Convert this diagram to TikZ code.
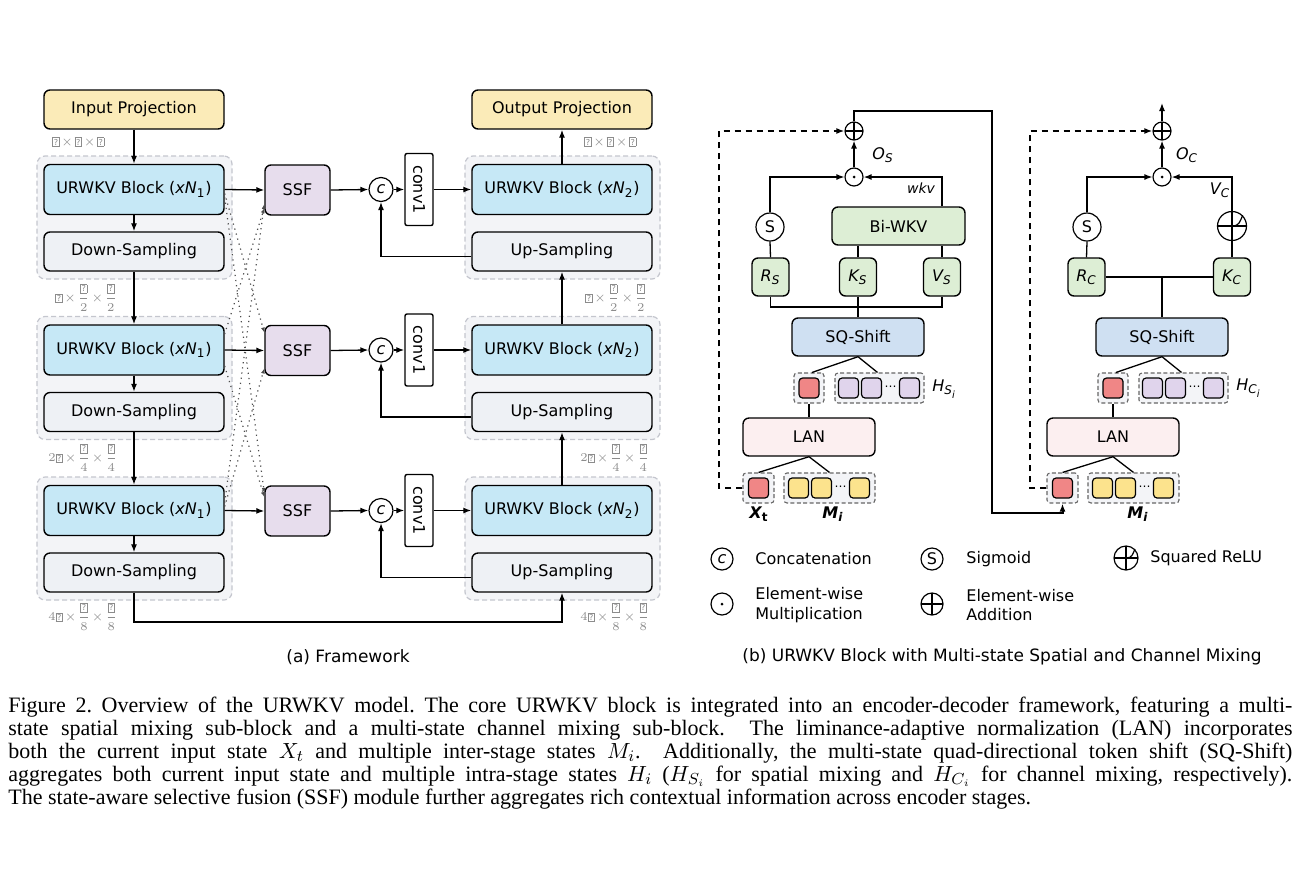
\documentclass[tikz,border=0pt]{standalone}
\usepackage{fontspec}
\usepackage{amsmath}
\setmainfont{Liberation Serif}
\newfontfamily\diagfont{DejaVu Sans}
\usetikzlibrary{arrows.meta,calc}

\definecolor{projfill}{HTML}{FBEBB8}
\definecolor{blockfill}{HTML}{C6E8F6}
\definecolor{sampfill}{HTML}{EEF1F5}
\definecolor{ssffill}{HTML}{E7DDED}
\definecolor{stagefill}{HTML}{F3F4F7}
\definecolor{stageline}{HTML}{C4C6CE}
\definecolor{wkvfill}{HTML}{DDEED5}
\definecolor{shiftfill}{HTML}{CFE0F2}
\definecolor{lanfill}{HTML}{FCEFF0}
\definecolor{tokred}{HTML}{F08686}
\definecolor{tokpurple}{HTML}{E0D4EC}
\definecolor{tokyellow}{HTML}{FCE38D}
\definecolor{dimtext}{HTML}{8C8C8C}

% missing-glyph placeholder used in the size annotations
\newcommand{\qbox}{{\setlength{\fboxsep}{0.4pt}\setlength{\fboxrule}{0.35pt}\fbox{\diagfont\fontsize{4.1}{4.1}\selectfont ?}}}
\newcommand{\szfull}{$\qbox\mskip-2mu\times\mskip-2mu\qbox\mskip-2mu\times\mskip-2mu\qbox$}
\newcommand{\szhalf}{$\qbox\mskip-2mu\times\mskip-2mu\dfrac{\qbox}{2}\mskip-2mu\times\mskip-2mu\dfrac{\qbox}{2}$}
\newcommand{\szquarter}{$2\qbox\mskip-2mu\times\mskip-2mu\dfrac{\qbox}{4}\mskip-2mu\times\mskip-2mu\dfrac{\qbox}{4}$}
\newcommand{\szeighth}{$4\qbox\mskip-2mu\times\mskip-2mu\dfrac{\qbox}{8}\mskip-2mu\times\mskip-2mu\dfrac{\qbox}{8}$}
\newcommand{\tokdots}{{\fontsize{6}{6}\selectfont ⋯}}

\begin{document}
\begin{tikzpicture}[x=0.5pt,y=-0.5pt,
  font=\diagfont\fontsize{8}{9.6}\selectfont,
  box/.style={draw, line width=0.7pt, rounded corners=3pt, inner sep=0pt, align=center},
  stage/.style={draw=stageline, dash pattern=on 2.5pt off 1.5pt, fill=stagefill, rounded corners=4pt, line width=0.6pt, inner sep=0pt},
  tokgrp/.style={draw=black!60, dash pattern=on 2pt off 1.2pt, fill=stagefill, rounded corners=1.5pt, line width=0.55pt, inner sep=0pt, minimum height=15pt},
  tok/.style={draw, line width=0.6pt, rounded corners=1.8pt, minimum size=10pt, inner sep=0pt},
  op/.style={draw, circle, line width=0.6pt, inner sep=0pt},
  addop/.style={op, path picture={\draw[line width=0.6pt] (path picture bounding box.north)--(path picture bounding box.south) (path picture bounding box.west)--(path picture bounding box.east);}},
  mulop/.style={op, path picture={\fill (path picture bounding box.center) circle (0.75pt);}},
  arr/.style={line width=0.65pt, -{Latex[length=4pt,width=3pt]}},
  link/.style={line width=0.65pt},
  crossln/.style={dotted, line width=0.6pt, draw=black!70, -{Latex[length=2.5pt,width=2pt]}},
  skip/.style={line width=0.8pt, dash pattern=on 3pt off 2.5pt, -{Latex[length=4pt,width=3pt]}},
  dimlbl/.style={text=dimtext, font=\diagfont\fontsize{5.8}{7}\selectfont, inner sep=0pt, anchor=west},
  lbl/.style={inner sep=0pt},
]
\useasboundingbox (0,0) rectangle (1300,879);

% ================= (a) Framework =================
\node[box, fill=projfill, minimum width=90pt, minimum height=19.5pt] (inproj) at (134,109.5) {Input Projection};
\node[box, fill=projfill, minimum width=90pt, minimum height=19.5pt] (outproj) at (562,109.5) {Output Projection};

% stage backgrounds
\foreach \i/\dy in {1/0,2/160.5,3/321}{
  \node[stage, minimum width=97.5pt, minimum height=61.5pt] (es\i) at (134.5,{217.5+\dy}) {};
  \node[stage, minimum width=97.5pt, minimum height=61.5pt] (ds\i) at (562.5,{217.5+\dy}) {};
}

% stage contents
\foreach \i/\dy in {1/0,2/160.5,3/321}{
  \node[box, fill=blockfill, minimum width=90pt, minimum height=25pt] (eu\i) at (134,{189.5+\dy}) {URWKV Block ({\itshape xN}\textsubscript{1})};
  \node[box, fill=sampfill, minimum width=90pt, minimum height=19.5pt] (ed\i) at (134,{251.5+\dy}) {Down-Sampling};
  \node[box, fill=blockfill, minimum width=90pt, minimum height=25pt] (du\i) at (562,{189.5+\dy}) {URWKV Block ({\itshape xN}\textsubscript{2})};
  \node[box, fill=sampfill, minimum width=90pt, minimum height=19.5pt] (dup\i) at (562,{251.5+\dy}) {Up-Sampling};
  \node[box, fill=ssffill, minimum width=32.5pt, minimum height=25pt] (ssf\i) at (297.5,{190+\dy}) {SSF};
  \node[op, minimum size=12pt] (cat\i) at (381,{189.5+\dy}) {\itshape c};
  \node[draw, line width=0.7pt, rounded corners=1pt, fill=white, rotate=-90, minimum width=36pt, minimum height=14pt, inner sep=0pt] (cv\i) at (419,{189.5+\dy}) {conv1};
  \draw[arr] (eu\i.south) -- (ed\i.north);
  \draw[arr] (eu\i.east) -- (ssf\i.west);
  \draw[arr] (ssf\i.east) -- (cat\i.west);
  \draw[arr] (cat\i) -- (cv\i);
  \draw[arr] (cv\i) -- (du\i.west);
  \draw[arr] ([yshift=-2.5pt]dup\i.west) -| (cat\i.south);
}

% main vertical flow
\draw[arr] (inproj.south) -- (eu1.north);
\draw[arr] (ed1.south) -- (eu2.north);
\draw[arr] (ed2.south) -- (eu3.north);
\draw[arr] (du1.north) -- (outproj.south);
\draw[arr] (du2.north) -- (dup1.south);
\draw[arr] (du3.north) -- (dup2.south);
\coordinate (bottomturn) at (134,622);
\draw[arr] (ed3.south) -- (bottomturn) -| (dup3.south);

% cross-stage links into the SSF modules
\draw[crossln] ([yshift=-2pt]eu1.east) -- ([yshift=9pt]ssf2.west);
\draw[crossln] ([yshift=-4pt]eu1.east) -- ([yshift=9pt]ssf3.west);
\draw[crossln] ([yshift=8pt]eu2.east) -- ([yshift=-9pt]ssf1.west);
\draw[crossln] ([yshift=-8pt]eu2.east) -- ([yshift=7pt]ssf3.west);
\draw[crossln] ([yshift=4pt]eu3.east) -- ([yshift=-7pt]ssf1.west);
\draw[crossln] ([yshift=2pt]eu3.east) -- ([yshift=-9pt]ssf2.west);

% feature sizes
\node[dimlbl] (sz0e) at (52,142) {\szfull};
\node[dimlbl] (sz0d) at (584,142) {\szfull};
\node[dimlbl] (sz1e) at (55,298) {\szhalf};
\node[dimlbl] (sz1d) at (585,298) {\szhalf};
\node[dimlbl] (sz2e) at (48,458) {\szquarter};
\node[dimlbl] (sz2d) at (580,458) {\szquarter};
\node[dimlbl] (sz3e) at (48,617) {\szeighth};
\node[dimlbl] (sz3d) at (580,617) {\szeighth};

\node[font=\diagfont\fontsize{8.5}{10}\selectfont] (capa) at (348,657) {(a) Framework};

% ================= (b) URWKV block =================
% ---- spatial mixing ----
\node[addop, minimum size=9pt] (addS) at (854,131) {};
\node[mulop, minimum size=9pt] (mulS) at (854,177) {};
\node[op, minimum size=14pt] (sigS) at (770,227) {S};
\node[box, fill=wkvfill, minimum width=66.5pt, minimum height=19pt] (wkvS) at (898.5,226) {Bi-WKV};
\node[box, fill=wkvfill, minimum width=18.5pt, minimum height=19pt] (rS) at (770.5,277) {{\itshape R}\textsubscript{\itshape S}};
\node[box, fill=wkvfill, minimum width=18.5pt, minimum height=19pt] (kS) at (858,277) {{\itshape K}\textsubscript{\itshape S}};
\node[box, fill=wkvfill, minimum width=18.5pt, minimum height=19pt] (vS) at (942,277) {{\itshape V}\textsubscript{\itshape S}};
\node[box, fill=shiftfill, minimum width=66pt, minimum height=19pt] (sqS) at (858,337) {SQ-Shift};
\node[tokgrp, minimum width=15pt] (hxS) at (809,388) {};
\node[tok, fill=tokred] (hxSa) at (809,388) {};
\node[tokgrp, minimum width=44.5pt] (hhS) at (879.5,388) {};
\node[tok, fill=tokpurple] (hhSa) at (848.5,388) {};
\node[tok, fill=tokpurple] (hhSb) at (871.5,388) {};
\node[lbl] (hhSd) at (890.5,388) {\tokdots};
\node[tok, fill=tokpurple] (hhSc) at (909.5,388) {};
\node[lbl, anchor=west] (hlblS) at (932,389) {{\itshape H}\textsubscript{\itshape S\textsubscript{i}}};
\node[box, fill=lanfill, minimum width=66pt, minimum height=19pt] (lanS) at (809,437) {LAN};
\node[tokgrp, minimum width=15.5pt] (xS) at (758.5,488) {};
\node[tok, fill=tokred] (xSa) at (758.5,488) {};
\node[tokgrp, minimum width=45.5pt] (mS) at (829.5,488) {};
\node[tok, fill=tokyellow] (mSa) at (798.5,488) {};
\node[tok, fill=tokyellow] (mSb) at (821.5,488) {};
\node[lbl] (mSd) at (840.5,488) {\tokdots};
\node[tok, fill=tokyellow] (mSc) at (859.5,488) {};
\node[lbl] (xlblS) at (759,514) {{\bfseries\itshape X}\textsubscript{\bfseries t}};
\node[lbl] (mlblS) at (833,514) {{\bfseries\itshape M}\textsubscript{\bfseries\itshape i}};
\node[lbl] (olblS) at (883,155) {{\itshape O}\textsubscript{\itshape S}};
\node[lbl, font=\diagfont\itshape\fontsize{7}{8}\selectfont] (wkvlbl) at (921,188) {wkv};

\draw[arr] (sigS.north) |- (mulS.west);
\draw[arr] (wkvS.north -| vS.north) |- (mulS.east);
\draw[arr] (mulS.north) -- (addS.south);
\draw[link] (rS.north) -- (sigS.south);
\draw[link] (kS.north) -- (kS.north |- wkvS.south);
\draw[link] (vS.north) -- (vS.north |- wkvS.south);
\coordinate (jS) at (858,307);
\draw[link] (rS.south) |- (jS) -| (vS.south);
\draw[link] (kS.south) -- (sqS.north);
\draw[link] (sqS.south) -- ([xshift=1.5pt]hxS.north);
\draw[link] (sqS.south) -- ([xshift=-1pt]hhS.north);
\draw[link] (hxS.south) -- (lanS.north);
\draw[link] (lanS.south) -- (xS.north);
\draw[link] (lanS.south) -- (mS.north);
\coordinate (skipS) at (719,131);
\draw[skip] (xS.west) -| (skipS) -- (addS.west);

% ---- channel mixing ----
\node[addop, minimum size=9pt] (addC) at (1162,131) {};
\node[mulop, minimum size=9pt] (mulC) at (1162,177) {};
\node[op, minimum size=14pt] (sigC) at (1087,227) {S};
\node[addop, minimum size=14.5pt] (reluC) at (1232,226) {};
\node[box, fill=wkvfill, minimum width=18.5pt, minimum height=19pt] (rC) at (1086.5,277) {{\itshape R}\textsubscript{\itshape C}};
\node[box, fill=wkvfill, minimum width=18.5pt, minimum height=19pt] (kC) at (1232,277) {{\itshape K}\textsubscript{\itshape C}};
\node[box, fill=shiftfill, minimum width=66pt, minimum height=19pt] (sqC) at (1162,337) {SQ-Shift};
\node[tokgrp, minimum width=15pt] (hxC) at (1113,388) {};
\node[tok, fill=tokred] (hxCa) at (1113,388) {};
\node[tokgrp, minimum width=44.5pt] (hhC) at (1183.5,388) {};
\node[tok, fill=tokpurple] (hhCa) at (1152.5,388) {};
\node[tok, fill=tokpurple] (hhCb) at (1175.5,388) {};
\node[lbl] (hhCd) at (1194.5,388) {\tokdots};
\node[tok, fill=tokpurple] (hhCc) at (1213.5,388) {};
\node[lbl, anchor=west] (hlblC) at (1236,388) {{\itshape H}\textsubscript{\itshape C\textsubscript{i}}};
\node[box, fill=lanfill, minimum width=66pt, minimum height=19pt] (lanC) at (1113,437) {LAN};
\node[tokgrp, minimum width=15.5pt] (xC) at (1062.5,488) {};
\node[tok, fill=tokred] (xCa) at (1062.5,488) {};
\node[tokgrp, minimum width=45.5pt] (mC) at (1133.5,488) {};
\node[tok, fill=tokyellow] (mCa) at (1102.5,488) {};
\node[tok, fill=tokyellow] (mCb) at (1125.5,488) {};
\node[lbl] (mCd) at (1144.5,488) {\tokdots};
\node[tok, fill=tokyellow] (mCc) at (1163.5,488) {};
\node[lbl] (mlblC) at (1138,514) {{\bfseries\itshape M}\textsubscript{\bfseries\itshape i}};
\node[lbl] (olblC) at (1187,155) {{\itshape O}\textsubscript{\itshape C}};
\node[lbl] (vlblC) at (1220,190) {{\itshape V}\textsubscript{\itshape C}};
\coordinate (outC) at (1162,103);

\draw[line width=0.6pt] (reluC.center) .. controls ($(reluC.center)!0.5!(reluC.east)$) and ($(reluC.center)!0.6!(reluC.30)$) .. (reluC.45);
\draw[arr] (addC.north) -- (outC);
\draw[arr] (mulC.north) -- (addC.south);
\draw[arr] (sigC.north) |- (mulC.west);
\draw[arr] (reluC.north) |- (mulC.east);
\draw[link] (rC.north) -- (sigC.south);
\draw[link] (kC.north) -- (reluC.south);
\draw[link] (rC.east) -- (kC.west);
\draw[link] (sqC.north) -- (sqC.north |- rC.east);
\draw[link] (sqC.south) -- ([xshift=1.5pt]hxC.north);
\draw[link] (sqC.south) -- ([xshift=-1pt]hhC.north);
\draw[link] (hxC.south) -- (lanC.north);
\draw[link] (lanC.south) -- (xC.north);
\draw[link] (lanC.south) -- (mC.north);
\coordinate (skipC) at (1030,131);
\draw[skip] (xC.west) -| (skipC) -- (addC.west);

% spatial output carried into the channel-mixing input
\coordinate (carryA) at (992,111);
\coordinate (carryB) at (992,513);
\draw[line width=1pt, -{Latex[length=4pt,width=3pt]}] (addS.north) |- (carryA) -- (carryB) -| (xC.south);

% ---- legend ----
\node[op, minimum size=11pt] (lgcat) at (722,559) {\itshape c};
\node[lbl, anchor=west] (lgcatt) at (755,559) {Concatenation};
\node[op, minimum size=11pt] (lgsig) at (932,559) {S};
\node[lbl, anchor=west] (lgsigt) at (966,559) {Sigmoid};
\node[addop, minimum size=12pt] (lgrelu) at (1126,558) {};
\draw[line width=0.6pt] (lgrelu.center) .. controls ($(lgrelu.center)!0.5!(lgrelu.east)$) and ($(lgrelu.center)!0.6!(lgrelu.30)$) .. (lgrelu.45);
\node[lbl, anchor=west] (lgrelut) at (1150,558) {Squared ReLU};
\node[mulop, minimum size=11pt] (lgmul) at (722,604) {};
\node[lbl, anchor=west, align=left] (lgmult) at (755,605) {Element-wise\\Multiplication};
\node[addop, minimum size=11pt] (lgadd) at (932,604) {};
\node[lbl, anchor=west, align=left] (lgaddt) at (966,605) {Element-wise\\Addition};

\node[font=\diagfont\fontsize{8.5}{10}\selectfont] (capb) at (1002,657) {(b) URWKV Block with Multi-state Spatial and Channel Mixing};

% ================= figure caption =================
\begin{scope}[every node/.style={anchor=base west, inner sep=0pt, font=\rmfamily\frenchspacing\fontsize{11}{11.5}\selectfont}]
\node (cl1) at (8,712) {\makebox[642pt][s]{Figure 2. Overview of the URWKV model. The core URWKV block is integrated into an encoder-decoder framework, featuring a multi-}};
\node (cl2) at (8,735) {\makebox[642pt][s]{state spatial mixing sub-block and a multi-state channel mixing sub-block. \ The liminance-adaptive normalization (LAN) incorporates}};
\node (cl3) at (8,758) {\makebox[642pt][s]{both the current input state $X_t$ and multiple inter-stage states $M_i$. \ Additionally, the multi-state quad-directional token shift (SQ-Shift)}};
\node (cl4) at (8,781) {\makebox[642pt][s]{aggregates both current input state and multiple intra-stage states $H_i$ ($H_{S_i}$ for spatial mixing and $H_{C_i}$ for channel mixing, respectively).}};
\node (cl5) at (8,804) {The state-aware selective fusion (SSF) module further aggregates rich contextual information across encoder stages.};
\end{scope}
\end{tikzpicture}
\end{document}
